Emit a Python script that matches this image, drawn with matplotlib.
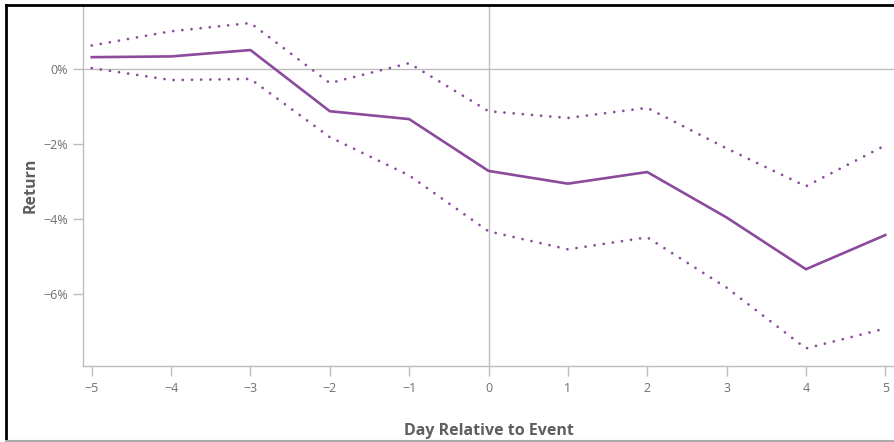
import matplotlib
matplotlib.use('Agg')
import matplotlib.pyplot as plt
from matplotlib.lines import Line2D
from matplotlib.ticker import FuncFormatter

# event-study data (returns in %)
days = [-5, -4, -3, -2, -1, 0, 1, 2, 3, 4, 5]
ret_mean = [0.32, 0.34, 0.51, -1.12, -1.33, -2.71, -3.05, -2.74, -3.95, -5.33, -4.42]
ret_upper = [0.63, 1.01, 1.23, -0.37, 0.16, -1.12, -1.30, -1.03, -2.11, -3.12, -2.03]
ret_lower = [0.03, -0.29, -0.26, -1.81, -2.83, -4.32, -4.80, -4.48, -5.82, -7.44, -6.91]
yticks = [0, -2, -4, -6]

purple = '#8c4a9c'
grey = '#bdbdbd'
txt = '#6f6f6f'

plt.rcParams['font.family'] = ['Open Sans', 'DejaVu Sans']

def fmt_num(v, p):
    return ('%d' % v).replace('-', '\u2212')

def fmt_pct(v, p):
    return ('%d%%' % v).replace('-', '\u2212')

fig = plt.figure(figsize=(8.94, 4.42), dpi=100)
ax = fig.add_axes([83/894, 1 - 365.7/442, 1 - 83/894, (365.7 - 5)/442])

ax.axhline(0, color=grey, lw=1, zorder=1)
ax.axvline(0, color=grey, lw=1, zorder=1)

ax.plot(days, ret_mean, color=purple, lw=1.9, zorder=3)
dots = (0, (0.01, 3.3))
ax.plot(days, ret_upper, color=purple, lw=2.0, ls=dots, dash_capstyle='round', zorder=3)
ax.plot(days, ret_lower, color=purple, lw=2.0, ls=dots, dash_capstyle='round', zorder=3)

ax.set_xlim(-5.11, 5.11)
ax.set_ylim(-7.9, 1.71)
ax.set_xticks(days)
ax.set_yticks(yticks)
ax.xaxis.set_major_formatter(FuncFormatter(fmt_num))
ax.yaxis.set_major_formatter(FuncFormatter(fmt_pct))

for s in ['top', 'right']:
    ax.spines[s].set_visible(False)
for s in ['left', 'bottom']:
    ax.spines[s].set_color(grey)
    ax.spines[s].set_linewidth(1)

ax.tick_params(axis='both', colors=grey, length=7, width=1, labelcolor=txt, labelsize=9)
ax.tick_params(axis='x', pad=5)
ax.tick_params(axis='y', pad=4)

ax.set_xlabel('Day Relative to Event', fontsize=11.5, fontweight='bold', color='#5e5e5e', labelpad=20)
ax.set_ylabel('Return', fontsize=11.5, fontweight='bold', color='#5e5e5e', labelpad=3)

# document frame around the figure
fig.add_artist(Line2D([6/894, 6/894], [0, 1 - 4.5/442], color='black', lw=2, transform=fig.transFigure))
fig.add_artist(Line2D([6/894, 1], [1 - 4.5/442, 1 - 4.5/442], color='black', lw=2, transform=fig.transFigure))
fig.add_artist(Line2D([6/894, 1], [1.5/442, 1.5/442], color='#aaaaaa', lw=1.5, transform=fig.transFigure))

fig.savefig('out.png', dpi=100)
